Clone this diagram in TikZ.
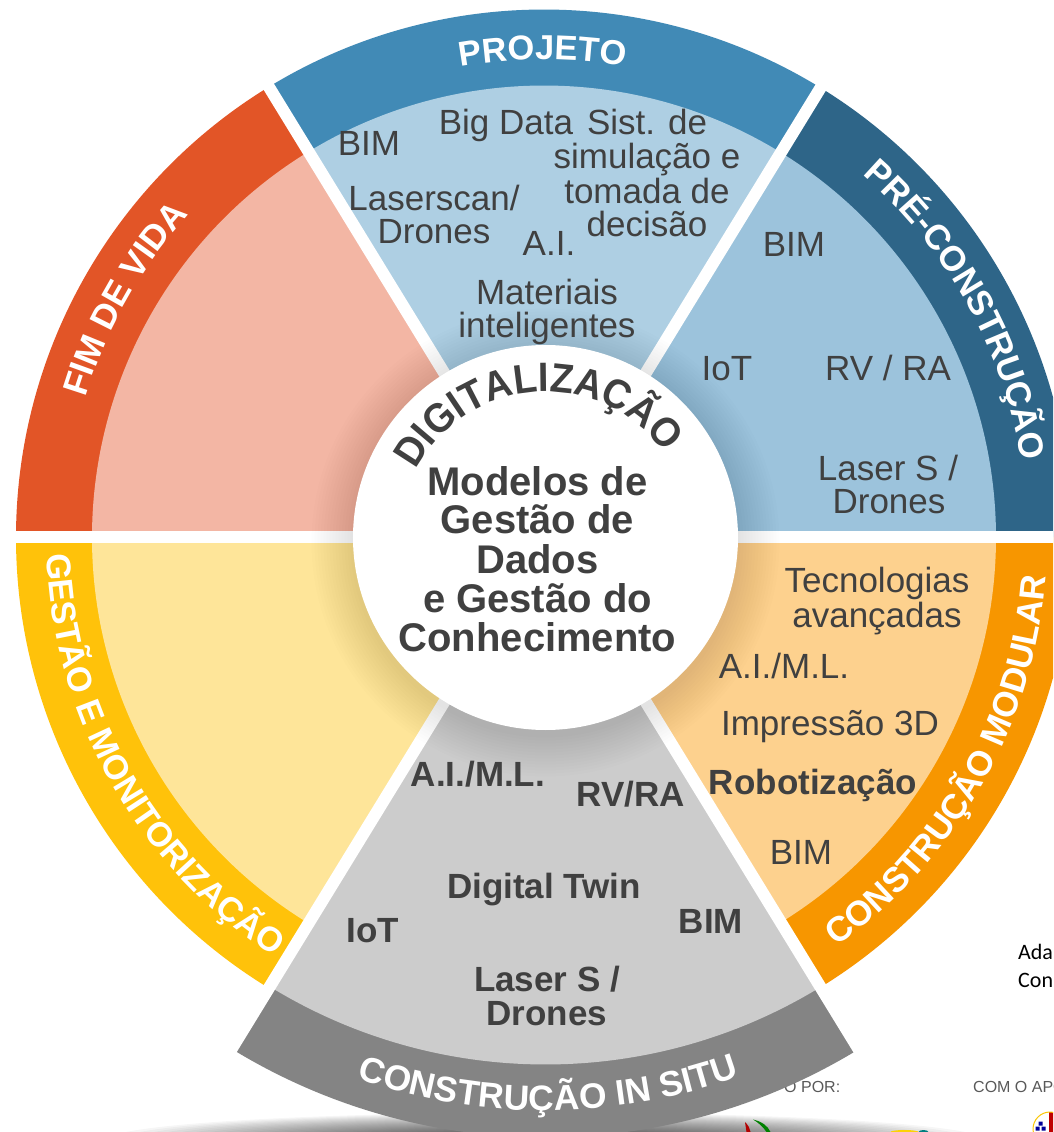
\documentclass[tikz,border=0pt]{standalone}
\usepackage{fontspec}
\setmainfont{Liberation Sans}
\newfontfamily\notefont{Carlito}
\usetikzlibrary{decorations.text}
\definecolor{inkgrey}{HTML}{404040}
\definecolor{projD}{HTML}{418AB6}\definecolor{projL}{HTML}{AECFE3}
\definecolor{preD}{HTML}{2E6588}\definecolor{preL}{HTML}{9CC3DC}
\definecolor{fimD}{HTML}{E25527}\definecolor{fimL}{HTML}{F3B6A4}
\definecolor{gesD}{HTML}{FFC20A}\definecolor{gesL}{HTML}{FEE599}
\definecolor{modD}{HTML}{F79600}\definecolor{modL}{HTML}{FDD18E}
\definecolor{sitD}{HTML}{848484}\definecolor{sitL}{HTML}{CCCCCC}
\tikzset{
  lbl/.style={anchor=base,inner sep=0pt,text=inkgrey,font=\fontsize{35}{35}\selectfont},
  lblb/.style={lbl,font=\fontsize{35}{35}\selectfont\bfseries},
  centretext/.style={lbl,font=\fontsize{40}{40}\selectfont\bfseries},
  note/.style={anchor=base west,inner sep=0pt,text=black,font=\fontsize{22}{22}\selectfont\notefont},
  small/.style={anchor=base west,inner sep=0pt,text=black!65,font=\fontsize{16}{16}\selectfont},
}
% \lbl[style]{name}{x px}{y px}{text}: placed by reference pixel coordinates
\newcommand{\lbl}[5][lbl]{\node[#1] (#2) at ({#3-545.5},{536.5-#4}) {#5};}
% \wedgefill{colour}{start}{end}{radius}
\newcommand{\wedgefill}[4]{\fill[#1] (0,0) -- (#2:#4) arc[start angle=#2,end angle=#3,radius=#4 pt] -- cycle;}
% \bandlabel{size}{text}{start}{end}{radius}
\newcommand{\bandlabel}[5]{%
  \path[decorate,decoration={text along path,text align=center,
     text={|\fontsize{#1}{#1}\selectfont\bfseries\color{white}|#2}}]
     (#3:#5) arc[start angle=#3,end angle=#4,radius=#5 pt];}
\begin{document}
\begin{tikzpicture}[x=1pt,y=1pt]
\useasboundingbox (-545.5,-594.5) rectangle (507.5,537.5);
\clip (-545.5,-594.5) rectangle (507.5,537.5);
\fill[white] (-545.5,-594.5) rectangle (507.5,537.5);
% ground shadow
\foreach \k in {0,...,24}{
  \fill[black,opacity=0.035] (0,-603) ellipse ({440-\k*13} and {28-\k*0.9});
}
% small texts behind the wheel
\lbl[note]{adaA}{1018}{958}{Ada}
\lbl[note]{conB}{1018}{986}{Con}
\lbl[small]{porT}{784}{1091}{O POR:}
\lbl[small]{apoT}{973}{1091}{COM O APO}
% logo fragments
\fill[red!70!black] (199.5,-584.5) .. controls (203,-588) and (204.5,-591) .. (205,-594.5) -- (201,-594.5) .. controls (200.5,-591) and (200,-588) .. (199.5,-584.5) -- cycle;
\fill[green!50!black] (207.5,-582) .. controls (216,-584) and (222,-588) .. (225,-594.5) -- (221,-594.5) .. controls (218,-590) and (213,-585) .. (207.5,-582) -- cycle;
\fill[yellow!70!orange] (345,-594.5) arc[start angle=180,end angle=0,x radius=14pt,y radius=2pt] -- cycle;
\fill[teal] (373,-594.5) arc[start angle=180,end angle=0,x radius=5pt,y radius=2pt] -- cycle;
\fill[white] (504.5,-591.5) circle (17);
\begin{scope}
  \clip (504.5,-591.5) circle (17);
  \fill[red!75!black] (503,-610) rectangle (525,-570);
\end{scope}
\draw[yellow!60!orange,line width=1pt] (504.5,-591.5) circle (17);
\fill[blue!60!black] (493,-588) rectangle (497,-584) (490,-593) rectangle (494,-589) (496,-593) rectangle (500,-589);
% sectors: dark band, then light interior
\begin{scope}[shift={(-1.5,0)}]
\wedgefill{projD}{58.5}{121.5}{528}\wedgefill{projL}{58.5}{121.5}{452}
\wedgefill{preD}{0}{58.5}{528}\wedgefill{preL}{0}{58.5}{452}
\wedgefill{fimD}{121.5}{180}{528}\wedgefill{fimL}{121.5}{180}{452}
\wedgefill{gesD}{180}{238.5}{528}\wedgefill{gesL}{180}{238.5}{452}
\wedgefill{modD}{301.5}{360}{528}\wedgefill{modL}{301.5}{360}{452}
\end{scope}
\wedgefill{sitD}{238.5}{301.5}{600}\wedgefill{sitL}{238.5}{301.5}{527}
% white gaps
\foreach \a in {0,58.5,121.5,180,238.5,301.5}{\draw[white,line width=12pt] (-0.5,0) -- ++(\a:640);}
% soft shadow round the hub
\foreach \k in {1,...,14}{
  \fill[black,opacity=0.008] (0,-5) circle ({192+\k*3});
}
% band labels
\bandlabel{34.5}{PROJETO}{110.3}{70.3}{478}
\bandlabel{35}{PRÉ-CONSTRUÇÃO}{52}{6}{482}
\bandlabel{35}{FIM DE VIDA}{170.5}{130.5}{481}
\bandlabel{34.3}{GESTÃO E MONITORIZAÇÃO}{177.5}{241.5}{499}
\bandlabel{35}{CONSTRUÇÃO MODULAR}{299.5}{361.5}{502}
\bandlabel{35.5}{CONSTRUÇÃO IN SITU}{245.3}{295.3}{573}
% hub
\node[circle,fill=white,minimum size=385pt,inner sep=0pt] (hub) at (0,0) {};
\path[decorate,decoration={text along path,text align=center,
   text={|\fontsize{41}{41}\selectfont\addfontfeature{FakeStretch=0.93}\bfseries\color{inkgrey}|DIGITALIZAÇÃO}}]
   (158:146) arc[start angle=158,end angle=30,radius=146pt];
\lbl[centretext]{h1}{537.5}{495}{Modelos de}
\lbl[centretext]{h2}{537.5}{533}{Gestão de}
\lbl[centretext]{h3}{537.5}{572}{Dados}
\lbl[centretext]{h4}{537.5}{611}{e Gestão do}
\lbl[centretext]{h5}{537.5}{650}{Conhecimento}
% PROJETO
\lbl{p1}{369}{155}{BIM}
\lbl{p2}{506}{134}{Big Data}
\lbl{p3}{647}{134}{Sist. de}
\lbl{p4}{647}{168}{simulação e}
\lbl{p5}{647}{203}{tomada de}
\lbl{p6}{647}{236}{decisão}
\lbl{p7}{434}{210}{Laserscan/}
\lbl{p8}{434}{243}{Drones}
\lbl{p9}{549}{255}{A.I.}
\lbl{p10}{547}{304}{Materiais}
\lbl{p11}{547}{337}{inteligentes}
% PRE-CONSTRUCAO
\lbl{q1}{794}{256}{BIM}
\lbl{q2}{727}{380}{IoT}
\lbl{q3}{888}{380}{RV / RA}
\lbl{q4}{888}{480}{Laser S /}
\lbl{q5}{889}{513}{Drones}
% MODULAR
\lbl{m1}{877}{592}{Tecnologias}
\lbl{m2}{877}{626}{avançadas}
\lbl{m3}{784}{677}{A.I./M.L.}
\lbl{m4}{830}{734}{Impressão 3D}
\lbl[lblb]{m5}{813}{793}{Robotização}
\lbl{m6}{801}{863}{BIM}
% IN SITU
\lbl[lblb]{s1}{478}{785}{A.I./M.L.}
\lbl[lblb]{s2}{631}{805}{RV/RA}
\lbl[lblb]{s3}{544}{897}{Digital Twin}
\lbl[lblb]{s4}{373}{941}{IoT}
\lbl[lblb]{s5}{711}{932}{BIM}
\lbl[lblb]{s6}{547}{990}{Laser S /}
\lbl[lblb]{s7}{547}{1024}{Drones}
\end{tikzpicture}
\end{document}
